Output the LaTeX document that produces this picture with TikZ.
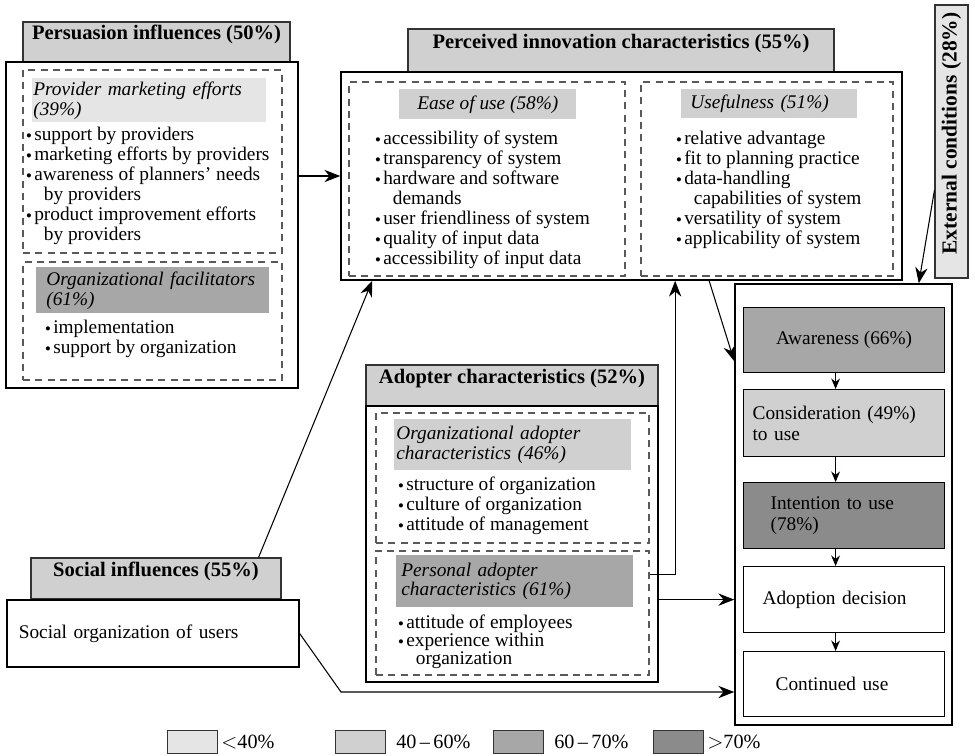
\documentclass[tikz,border=0pt]{standalone}
\usepackage{fontspec}
\setmainfont{Liberation Serif}
\usetikzlibrary{positioning,fit,arrows.meta}

\definecolor{lvA}{gray}{0.90}
\definecolor{lvB}{gray}{0.815}
\definecolor{lvC}{gray}{0.655}
\definecolor{lvD}{gray}{0.545}

\newcommand{\itm}{\makebox[4.5pt][l]{\raisebox{0.25ex}{\scalebox{0.55}{$\bullet$}}}}
\newcommand{\cnt}{\hspace*{10pt}}

\tikzset{
  mainbox/.style={draw, line width=0.9pt, inner sep=0pt},
  hdr/.style={draw=black!80, line width=0.6pt, fill=lvB, inner sep=0pt, font=\fontsize{11.7}{13}\selectfont\bfseries},
  dbox/.style={draw=black!65, dash pattern=on 4pt off 3pt, line width=0.6pt, inner sep=0pt},
  subhd/.style={fill=#1, inner ysep=0pt, anchor=north west, align=left, font=\fontsize{11}{11.34}\selectfont\itshape},
  lst/.style={inner sep=0pt, anchor=north west, align=left, font=\fontsize{11}{11.34}\selectfont},
  stg/.style={draw, line width=0.7pt, fill=#1, inner ysep=0pt, anchor=north west, minimum width=4.02cm, align=left, font=\fontsize{11}{12}\selectfont},
  stg/.default=white,
  conn/.style={-{Stealth[length=9pt,width=7pt]}, line width=0.6pt},
  sconn/.style={-{Stealth[length=6pt,width=5pt]}, line width=0.6pt},
  legbox/.style={draw=black!80, line width=0.6pt, inner sep=0pt, minimum width=1cm, minimum height=0.46cm, anchor=north west},
  legtxt/.style={inner sep=0pt, font=\fontsize{11.5}{12}\selectfont},
}

\begin{document}
\begin{tikzpicture}[x=0.02cm, y=-0.02cm]
    \useasboundingbox (0,0) rectangle (975,755);
    % persuasion influences
    \node[hdr, fit={(23,22) (290,62)}] (pershd) {Persuasion influences (50\%)};
    \node[mainbox, fit={(6,62) (298,388)}] (persbox) {};
    \node[dbox, fit={(23,70) (282,253)}] (pmdash) {};
    \node[subhd=lvA, minimum width=4.68cm, minimum height=0.88cm, inner xsep=0.02cm, text width=4.64cm] (pmhd) at (32,78) {Provider marketing efforts\\(39\%)};
    \node[lst] (pmlist) at (26,127) {\itm support by providers\\ \itm marketing efforts by providers\\ \itm awareness of planners' needs\\ \cnt by providers\\ \itm product improvement efforts\\ \cnt by providers};
    \node[dbox, fit={(23,262) (282,380)}] (ofdash) {};
    \node[subhd=lvC, minimum width=4.66cm, minimum height=0.92cm, inner xsep=0.2cm, text width=4.26cm] (ofhd) at (36,267) {Organizational facilitators\\(61\%)};
    \node[lst] (oflist) at (45,320) {\itm implementation\\ \itm support by organization};
    % perceived innovation characteristics
    \node[hdr, fit={(408,29) (834,72)}] (perchd) {Perceived innovation characteristics (55\%)};
    \node[mainbox, fit={(341,72) (902,280)}] (percbox) {};
    \node[dbox, fit={(349,82) (625,276)}] (eoudash) {};
    \node[dbox, fit={(641,82) (893,276)}] (usedash) {};
    \node[subhd=lvB, minimum width=3.54cm, minimum height=0.6cm, align=center] (eouhd) at (399,89) {Ease of use (58\%)};
    \node[subhd=lvB, minimum width=3.52cm, minimum height=0.58cm, inner xsep=0.18cm, text width=3.16cm] (usehd) at (681,89) {Usefulness (51\%)};
    \node[lst] (eoulist) at (375,131) {\itm accessibility of system\\ \itm transparency of system\\ \itm hardware and software\\ \cnt demands\\ \itm user friendliness of system\\ \itm quality of input data\\ \itm accessibility of input data};
    \node[lst] (uselist) at (676,131) {\itm relative advantage\\ \itm fit to planning practice\\ \itm data-handling\\ \cnt capabilities of system\\ \itm versatility of system\\ \itm applicability of system};
    % external conditions
    \node[hdr, fill=lvA, fit={(935,5) (968,278)}] (exthd) {};
    \node[rotate=90, inner sep=0pt, font=\fontsize{12.2}{14}\selectfont\bfseries] (exttxt) at ([yshift=0.16cm]exthd.center) {External conditions (28\%)};
    % adopter characteristics
    \node[hdr, fit={(366,365) (658,406)}] (adhd) {Adopter characteristics (52\%)};
    \node[mainbox, fit={(366,406) (658,682)}] (adbox) {};
    \node[dbox, fit={(376,413) (649,543)}] (oadash) {};
    \node[dbox, fit={(376,551) (649,675)}] (padash) {};
    \node[subhd=lvB, minimum width=4.74cm, minimum height=1.02cm, inner xsep=0.04cm, text width=4.66cm] (oahd) at (394,419) {Organizational adopter\\characteristics (46\%)};
    \node[lst] (oalist) at (398,477) {\itm structure of organization\\ \itm culture of organization\\ \itm attitude of management};
    \node[subhd=lvC, minimum width=4.74cm, minimum height=1.04cm, inner xsep=0.1cm, text width=4.54cm] (pahd) at (396,555) {Personal adopter\\characteristics (61\%)};
    \node[lst, font=\fontsize{11}{10.2}\selectfont] (palist) at (398,615) {\itm attitude of employees\\ \itm experience within\\ \cnt organization};
    % social influences
    \node[hdr, fit={(31,558) (281,599)}] (sochd) {Social influences (55\%)};
    \node[mainbox, anchor=north west, minimum width=5.84cm, minimum height=1.34cm, inner xsep=0.24cm, text width=5.36cm, align=left, font=\fontsize{11}{12}\selectfont] (socbox) at (6,599) {Social organization of users};
    % adoption stages
    \node[mainbox, fit={(735,284) (952,725)}] (stgbox) {};
    \node[stg=lvC, minimum height=1.3cm, align=center] (aware) at (743,307) {Awareness (66\%)};
    \node[stg=lvB, minimum height=1.34cm, inner xsep=0.18cm, text width=3.66cm] (consid) at (743,389) {Consideration (49\%)\\to use};
    \node[stg=lvD, minimum height=1.32cm, inner xsep=0.54cm, text width=2.94cm] (intent) at (743,482) {Intention to use\\(78\%)};
    \node[stg, minimum height=1.32cm, inner xsep=0.38cm, text width=3.26cm] (adopt) at (743,566) {Adoption decision};
    \node[stg, minimum height=1.3cm, inner xsep=0.64cm, text width=2.74cm] (contin) at (743,651) {Continued use};
    \draw[sconn] ([xshift=-0.17cm]aware.south) -- ([xshift=-0.17cm]consid.north);
    \draw[sconn] ([xshift=-0.17cm]consid.south) -- ([xshift=-0.17cm]intent.north);
    \draw[sconn] ([xshift=-0.17cm]intent.south) -- ([xshift=-0.17cm]adopt.north);
    \draw[sconn] ([xshift=-0.17cm]adopt.south) -- ([xshift=-0.17cm]contin.north);
    % connectors between groups
    \draw[conn] (persbox.east |- percbox.west) -- (percbox.west);
    \draw[conn] ([xshift=-0.46cm]sochd.north east) -- ([xshift=0.64cm]percbox.south west);
    \draw[conn] ([xshift=7.38cm]percbox.south west) -- ([yshift=-1.56cm]stgbox.north west);
    \draw[conn] ([yshift=-0.48cm]padash.north east) -| ([xshift=6.7cm]percbox.south west);
    \draw[conn] (adbox.east |- adopt.west) -- (stgbox.west |- adopt.west);
    \coordinate (socbend) at (341,692);
    \draw[conn] (socbox.east) -- (socbend) -- (socbend -| stgbox.west);
    \draw[conn] ([yshift=-0.97cm]exthd.west) -- ([xshift=-0.68cm]stgbox.north east);
    % legend
    \node[legbox, fill=lvA] (legA) at (167,730) {};
    \node[legtxt, right=0.06cm of legA] (legAtxt) {$<$40\%};
    \node[legbox, fill=lvB] (legB) at (335,730) {};
    \node[legtxt, right=0.2cm of legB] (legBtxt) {40\,--\,60\%};
    \node[legbox, fill=lvC] (legC) at (493,730) {};
    \node[legtxt, right=0.2cm of legC] (legCtxt) {60\,--\,70\%};
    \node[legbox, fill=lvD] (legD) at (653,730) {};
    \node[legtxt, right=0.06cm of legD] (legDtxt) {$>$70\%};
\end{tikzpicture}
\end{document}
